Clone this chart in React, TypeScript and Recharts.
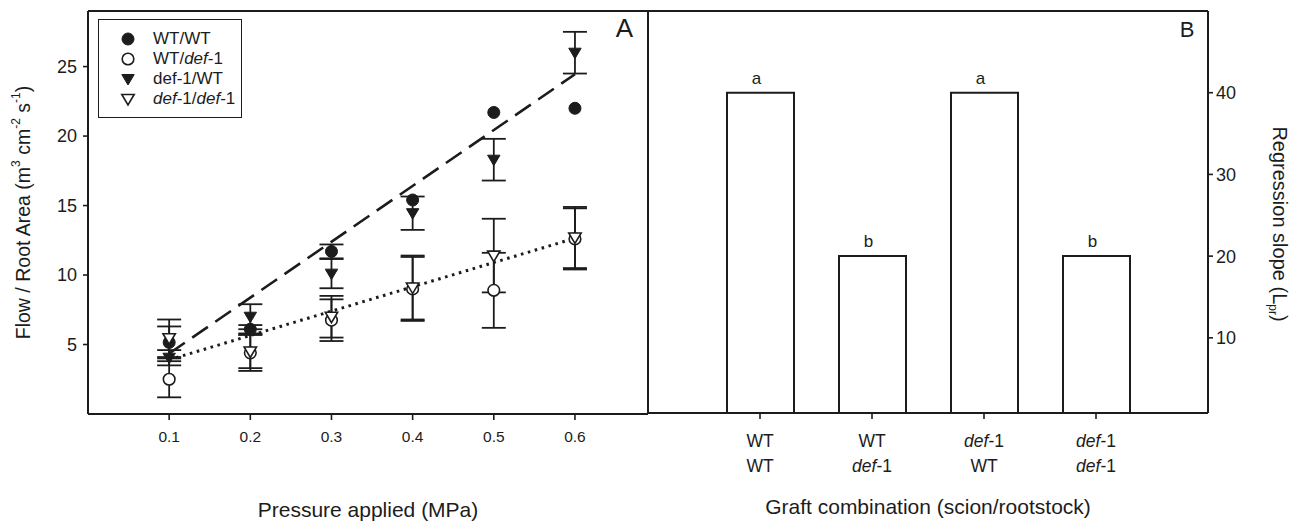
import React from 'react';
import {
  ComposedChart,
  Scatter,
  Line,
  XAxis,
  YAxis,
  ErrorBar,
  ReferenceLine,
  Legend,
  Label,
  BarChart,
  Bar,
  LabelList,
} from 'recharts';

const FONT = '"Liberation Sans", Arial, Helvetica, sans-serif';
const INK = '#1c1c1c';

// Panel A: flow per root area vs applied pressure
const pressure = [0.1, 0.2, 0.3, 0.4, 0.5, 0.6];
const wtWt = [5.15, 6.1, 11.7, 15.4, 21.7, 22.0];
const wtWtErr = [1.15, 0.3, 0.5, 0, 0, 0];
const wtDef = [2.5, 4.4, 6.75, 9.0, 8.9, 12.6];
const wtDefErr = [1.3, 1.3, 1.5, 2.3, 2.7, 2.2];
const defWt = [4.05, 7.0, 10.1, 14.45, 18.3, 26.0];
const defWtErr = [0.55, 0.9, 1.05, 1.2, 1.5, 1.5];
const defDef = [5.45, 4.5, 7.0, 9.1, 11.4, 12.7];
const defDefErr = [1.35, 1.2, 1.5, 2.3, 2.65, 2.2];

const fitPressure = [0.1, 0.6];
const fitHigh = [4.35, 24.45];
const fitLow = [3.9, 12.65];

const yTicksA = [5, 10, 15, 20, 25];
const seriesNames = ['WT/WT', 'WT/def-1', 'def-1/WT', 'def-1/def-1'];
const legendItalic = [false, true, false, true];

// Panel B: regression slopes
const grafts = ['WT/WT', 'WT/def-1', 'def-1/WT', 'def-1/def-1'];
const slopes = [40, 20, 40, 20];
const letters = ['a', 'b', 'a', 'b'];
const yTicksB = [10, 20, 30, 40];

const points = (vals: number[], errs: number[]) =>
  pressure.map((p, i) => ({ p, v: vals[i], e: errs[i] }));
const fitLine = (vals: number[]) => fitPressure.map((p, i) => ({ p, fit: vals[i] }));

const barData = grafts.map((g, i) => ({ g, s: slopes[i], l: letters[i] }));

type Kind = 'dot' | 'ring' | 'tri' | 'openTri';
const kinds: Kind[] = ['dot', 'ring', 'tri', 'openTri'];

const marker = (kind: Kind, cx: number, cy: number) => {
  if (kind === 'dot') return <circle cx={cx} cy={cy} r={6} fill={INK} stroke={INK} strokeWidth={1} />;
  if (kind === 'ring') return <circle cx={cx} cy={cy} r={5.8} fill="#fff" stroke={INK} strokeWidth={1.6} />;
  const d = `M${cx - 6.2},${cy - 4.5} L${cx + 6.2},${cy - 4.5} L${cx},${cy + 6} Z`;
  if (kind === 'tri') return <path d={d} fill={INK} stroke={INK} strokeWidth={1} />;
  return <path d={d} fill="#fff" stroke={INK} strokeWidth={1.6} strokeLinejoin="miter" />;
};

const shapeOf = (kind: Kind) => (props: any) => marker(kind, props.cx, props.cy);

// "def" is set in italics in most labels
const withItalic = (text: string, html: boolean) => {
  const parts = text.split('def');
  return parts.map((part, i) => (
    <React.Fragment key={i}>
      {i > 0 && (html ? <i>def</i> : <tspan fontStyle="italic">def</tspan>)}
      {part}
    </React.Fragment>
  ));
};

const renderLegend = (props: any) => {
  const payload = (props.payload || []).filter((p: any) => seriesNames.includes(p.value));
  return (
    <div
      style={{
        width: 144,
        height: 99,
        border: `1.5px solid ${INK}`,
        boxSizing: 'border-box',
        background: '#fff',
        position: 'relative',
        fontFamily: FONT,
        fontSize: 17,
        color: INK,
      }}
    >
      {payload.map((entry: any, i: number) => {
        const idx = seriesNames.indexOf(entry.value);
        const top = 9 + i * 20;
        return (
          <div key={entry.value} style={{ position: 'absolute', left: 0, top, height: 20, width: 140 }}>
            <svg width={16} height={16} style={{ position: 'absolute', left: 21, top: 2 }}>
              {marker(kinds[idx], 8, 8)}
            </svg>
            <span style={{ position: 'absolute', left: 54, top: 0, lineHeight: '20px', whiteSpace: 'nowrap' }}>
              {legendItalic[idx] ? withItalic(entry.value, true) : entry.value}
            </span>
          </div>
        );
      })}
    </div>
  );
};

const FlowLabel = (props: any) => {
  const vb = props.viewBox;
  const cx = vb.x + 25;
  const cy = vb.y + vb.height / 2;
  return (
    <text
      x={cx}
      y={cy}
      transform={`rotate(-90 ${cx} ${cy})`}
      textAnchor="middle"
      dominantBaseline="middle"
      fontSize={19.5}
      fontFamily={FONT}
      fill={INK}
    >
      Flow / Root Area (m
      <tspan fontSize={12} dy={-8}>3</tspan>
      <tspan dy={8}> cm</tspan>
      <tspan fontSize={12} dy={-8}>-2</tspan>
      <tspan dy={8}> s</tspan>
      <tspan fontSize={12} dy={-8}>-1</tspan>
      <tspan dy={8}>)</tspan>
    </text>
  );
};

const PressureLabel = (props: any) => {
  const vb = props.viewBox;
  return (
    <text x={vb.x + vb.width / 2} y={517} textAnchor="middle" fontSize={21} fontFamily={FONT} fill={INK}>
      Pressure applied (MPa)
    </text>
  );
};

const GraftLabel = (props: any) => {
  const vb = props.viewBox;
  return (
    <text x={vb.x + vb.width / 2} y={514} textAnchor="middle" fontSize={21} fontFamily={FONT} fill={INK}>
      Graft combination (scion/rootstock)
    </text>
  );
};

const SlopeLabel = (props: any) => {
  const vb = props.viewBox;
  const cx = vb.x + 70;
  const cy = vb.y + vb.height / 2 + 12;
  return (
    <text
      x={cx}
      y={cy}
      transform={`rotate(90 ${cx} ${cy})`}
      textAnchor="middle"
      dominantBaseline="middle"
      fontSize={20}
      fontFamily={FONT}
      fill={INK}
    >
      Regression slope (L
      <tspan fontSize={12} dy={6}>pr</tspan>
      <tspan dy={-6}>)</tspan>
    </text>
  );
};

const GraftTick = (props: any) => {
  const { x, y, payload } = props;
  const [scion, root] = String(payload.value).split('/');
  return (
    <text x={x} y={y} textAnchor="middle" fontSize={17.5} fontFamily={FONT} fill={INK}>
      <tspan x={x} dy={26}>{withItalic(scion, false)}</tspan>
      <tspan x={x} dy={25}>{withItalic(root, false)}</tspan>
    </text>
  );
};

const axisLine = { stroke: INK, strokeWidth: 2 };
const tickLine = { stroke: INK, strokeWidth: 1.6 };

const PanelA = () => (
  <ComposedChart width={660} height={521} margin={{ top: 11, right: 12, bottom: 77, left: 0 }}>
    <XAxis
      type="number"
      dataKey="p"
      domain={[0, 0.69]}
      ticks={pressure}
      interval={0}
      tickFormatter={(v: number) => v.toFixed(1)}
      height={30}
      tickSize={6}
      tickMargin={11}
      axisLine={axisLine}
      tickLine={tickLine}
      tick={{ fontSize: 15.5, fill: INK, fontFamily: FONT }}
    >
      <Label content={<PressureLabel />} />
    </XAxis>
    <YAxis
      type="number"
      domain={[0, 29]}
      ticks={yTicksA}
      interval={0}
      width={88}
      tickSize={5}
      tickMargin={6}
      axisLine={axisLine}
      tickLine={tickLine}
      tick={{ fontSize: 18, fill: INK, fontFamily: FONT }}
    >
      <Label content={<FlowLabel />} />
    </YAxis>
    <ReferenceLine y={29} stroke={INK} strokeWidth={2} />
    <ReferenceLine x={0.69} stroke={INK} strokeWidth={2} />
    <Line
      data={fitLine(fitHigh)}
      dataKey="fit"
      name="fitHigh"
      stroke={INK}
      strokeWidth={2.6}
      strokeDasharray="19 9"
      dot={false}
      activeDot={false}
      legendType="none"
      isAnimationActive={false}
    />
    <Line
      data={fitLine(fitLow)}
      dataKey="fit"
      name="fitLow"
      stroke={INK}
      strokeWidth={3}
      strokeDasharray="2.6 4.6"
      dot={false}
      activeDot={false}
      legendType="none"
      isAnimationActive={false}
    />
    {[
      [wtWt, wtWtErr],
      [wtDef, wtDefErr],
      [defWt, defWtErr],
      [defDef, defDefErr],
    ].map(([vals, errs], i) => (
      <Scatter
        key={seriesNames[i]}
        name={seriesNames[i]}
        data={points(vals, errs)}
        dataKey="v"
        fill={INK}
        shape={shapeOf(kinds[i])}
        isAnimationActive={false}
      >
        <ErrorBar dataKey="e" direction="y" width={12} stroke={INK} strokeWidth={1.8} />
      </Scatter>
    ))}
    <Legend
      layout="vertical"
      align="center"
      verticalAlign="middle"
      content={renderLegend}
      wrapperStyle={{ left: 98, top: 19, width: 144, height: 99 }}
    />
  </ComposedChart>
);

const PanelB = () => (
  <BarChart width={650} height={521} data={barData} margin={{ top: 11, right: 0, bottom: 48, left: 8 }}>
    <XAxis
      dataKey="g"
      padding={{ left: 56, right: 56 }}
      height={60}
      interval={0}
      tickSize={6}
      axisLine={axisLine}
      tickLine={tickLine}
      tick={<GraftTick />}
    >
      <Label content={<GraftLabel />} />
    </XAxis>
    <YAxis
      orientation="right"
      type="number"
      domain={[0.8, 50]}
      ticks={yTicksB}
      interval={0}
      width={82}
      tickSize={5}
      tickMargin={3}
      axisLine={axisLine}
      tickLine={tickLine}
      tick={{ fontSize: 18, fill: INK, fontFamily: FONT }}
    >
      <Label content={<SlopeLabel />} />
    </YAxis>
    <ReferenceLine y={50} stroke={INK} strokeWidth={2} />
    <Bar dataKey="s" fill="#fff" stroke={INK} strokeWidth={2} barSize={67} isAnimationActive={false}>
      <LabelList dataKey="l" position="top" offset={9} dx={-4} fontSize={17} fontFamily={FONT} fill={INK} />
    </Bar>
  </BarChart>
);

export default function App() {
  return (
    <div style={{ position: 'absolute', left: 0, top: 0, width: 1290, height: 521, background: '#fff' }}>
      <div style={{ position: 'absolute', left: 0, top: 0 }}>
        <PanelA />
      </div>
      <div style={{ position: 'absolute', left: 640, top: 0 }}>
        <PanelB />
      </div>
      <svg width={1290} height={521} style={{ position: 'absolute', left: 0, top: 0, pointerEvents: 'none' }}>
        <text x={624.5} y={37} textAnchor="middle" fontSize={26} fontFamily={FONT} fill={INK}>
          A
        </text>
        <text x={1187} y={37} textAnchor="middle" fontSize={22} fontFamily={FONT} fill={INK}>
          B
        </text>
      </svg>
    </div>
  );
}
